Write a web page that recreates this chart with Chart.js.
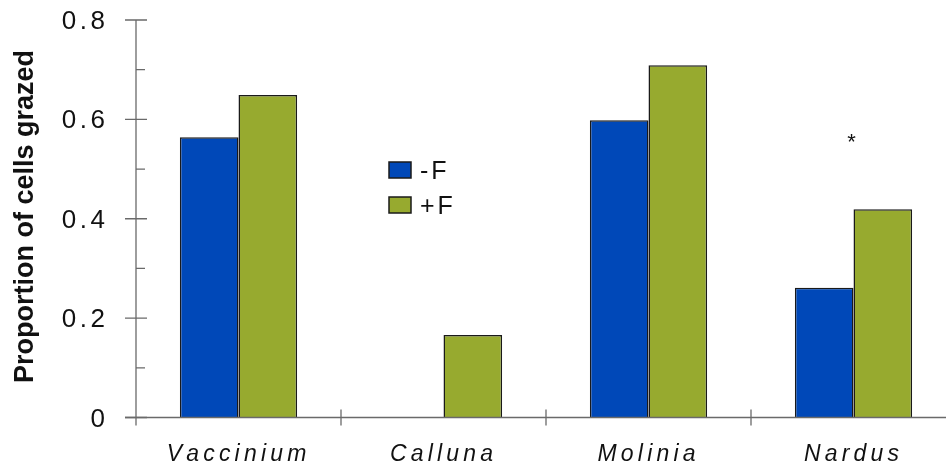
<!DOCTYPE html>
<html>
<head>
<meta charset="utf-8">
<script src="https://cdn.jsdelivr.net/npm/chart.js@4.4.0/dist/chart.umd.min.js"></script>
<style>
  html, body { margin: 0; padding: 0; background: #fff; overflow: hidden; }
  #wrap { width: 946px; height: 466px; overflow: hidden; }
  #grazeChart { display: block; }
</style>
</head>
<body>
<div id="wrap"><canvas id="grazeChart" width="960" height="466"></canvas></div>
<script>
// Data
const species = ["Vaccinium", "Calluna", "Molinia", "Nardus"];
const minusF = [0.564, 0, 0.598, 0.261];
const plusF = [0.649, 0.166, 0.709, 0.419];
const seriesNames = ["-F", "+F"];
const yTicks = [0, 0.2, 0.4, 0.6, 0.8];
const signif = ["", "", "", "*"];
const signifAt = [null, null, null, 0.56];

const axisColor = "#6a6a6a";

// text with spread-out letters, drawn char by char
function spacedText(ctx, str, x, y, gap, align) {
  let total = 0;
  const widths = [];
  for (const ch of str) {
    const w = ctx.measureText(ch).width;
    widths.push(w);
    total += w;
  }
  total += gap * (widths.length - 1);
  let cx = x;
  if (align === "center") cx = x - total / 2;
  if (align === "right") cx = x - total;
  ctx.textAlign = "left";
  let k = 0;
  for (const ch of str) {
    ctx.fillText(ch, cx, y);
    cx += widths[k++] + gap;
  }
}

// draws axes, labels, legend and the significance mark
const decorations = {
  id: "decorations",
  afterDraw(chart) {
    const ctx = chart.ctx;
    const x = chart.scales.x;
    const y = chart.scales.y;
    const area = chart.chartArea;
    const y0 = y.getPixelForValue(0);
    const yTop = y.getPixelForValue(0.8);
    ctx.save();
    ctx.strokeStyle = axisColor;
    ctx.lineWidth = 1.3;

    // axes
    ctx.beginPath();
    ctx.moveTo(area.left, yTop);
    ctx.lineTo(area.left, y0 + 8);
    ctx.moveTo(area.left - 11, y0);
    ctx.lineTo(chart.width, y0);
    ctx.stroke();

    // y ticks: major cross the axis, minor on the inside
    ctx.beginPath();
    for (let v = 0; v <= 8; v++) {
      const py = y.getPixelForValue(v / 10);
      if (v % 2 === 0) {
        ctx.moveTo(area.left - 11, py);
        ctx.lineTo(area.left + 11, py);
      } else {
        ctx.moveTo(area.left, py);
        ctx.lineTo(area.left + 9, py);
      }
    }
    // x ticks at category boundaries
    const half = (x.getPixelForValue(1) - x.getPixelForValue(0)) / 2;
    for (let i = 1; i < species.length; i++) {
      const px = x.getPixelForValue(i) - half;
      ctx.moveTo(px, y0 - 8);
      ctx.lineTo(px, y0 + 8);
    }
    ctx.stroke();

    // y tick labels
    ctx.fillStyle = "#111";
    ctx.font = "26px Liberation Sans, Arial, sans-serif";
    ctx.textBaseline = "alphabetic";
    yTicks.forEach(function (t) {
      const lbl = t === 0 ? "0" : t.toFixed(1);
      spacedText(ctx, lbl, area.left - 31, y.getPixelForValue(t) + 9, 3.5, "right");
    });

    // x category labels
    ctx.font = "italic 23px Liberation Sans, Arial, sans-serif";
    species.forEach(function (s, i) {
      spacedText(ctx, s, x.getPixelForValue(i) - 2, y0 + 43, 4.2, "center");
    });

    // y axis title
    ctx.font = "bold 27px Liberation Sans, Arial, sans-serif";
    ctx.translate(33, 216.5);
    ctx.rotate(-Math.PI / 2);
    ctx.textAlign = "center";
    ctx.fillText("Proportion of cells grazed", 0, 0);
    ctx.setTransform(1, 0, 0, 1, 0, 0);

    // legend inside plot
    const ds = chart.data.datasets;
    ds.forEach(function (d, i) {
      const lx = area.left + 253;
      const ly = area.top + 142 + i * 35;
      ctx.fillStyle = d.backgroundColor;
      ctx.fillRect(lx, ly, 22, 16);
      ctx.strokeStyle = "#1a1a1a";
      ctx.lineWidth = 1.5;
      ctx.strokeRect(lx, ly, 22, 16);
      ctx.fillStyle = "#111";
      ctx.font = "25px Liberation Sans, Arial, sans-serif";
      spacedText(ctx, d.label, lx + 31, ly + 17, 3, "left");
    });

    // significance mark
    ctx.font = "22px Liberation Sans, Arial, sans-serif";
    ctx.textAlign = "center";
    ctx.textBaseline = "middle";
    signif.forEach(function (s, i) {
      if (s && signifAt[i] !== null) {
        ctx.fillText(s, x.getPixelForValue(i) - 2, y.getPixelForValue(signifAt[i]) + 4);
      }
    });
    ctx.restore();
  }
};

const ctx = document.getElementById("grazeChart").getContext("2d");
const grazeChart = new Chart(ctx, {
  type: "bar",
  data: {
    labels: species,
    datasets: [
      {
        label: seriesNames[0],
        data: minusF,
        backgroundColor: "#0048b8",
        borderColor: "#1a1a1a",
        borderWidth: 1.5,
        borderSkipped: "bottom",
        categoryPercentage: 0.572,
        barPercentage: 1,
      },
      {
        label: seriesNames[1],
        data: plusF,
        backgroundColor: "#97aa2f",
        borderColor: "#1a1a1a",
        borderWidth: 1.5,
        borderSkipped: "bottom",
        categoryPercentage: 0.572,
        barPercentage: 1,
      },
    ],
  },
  options: {
    responsive: false,
    animation: false,
    layout: { padding: { left: 0, right: 4, top: 20, bottom: 0 } },
    scales: {
      x: {
        grid: { display: false },
        border: { display: false },
        ticks: { display: false },
        afterFit(scale) { scale.height = 48.5; },
      },
      y: {
        min: 0,
        max: 0.8,
        grid: { display: false },
        border: { display: false },
        ticks: { display: false, stepSize: 0.1 },
        afterFit(scale) { scale.width = 136; },
      },
    },
    plugins: {
      legend: { display: false },
      tooltip: { enabled: false },
    },
  },
  plugins: [decorations],
});
</script>
</body>
</html>
